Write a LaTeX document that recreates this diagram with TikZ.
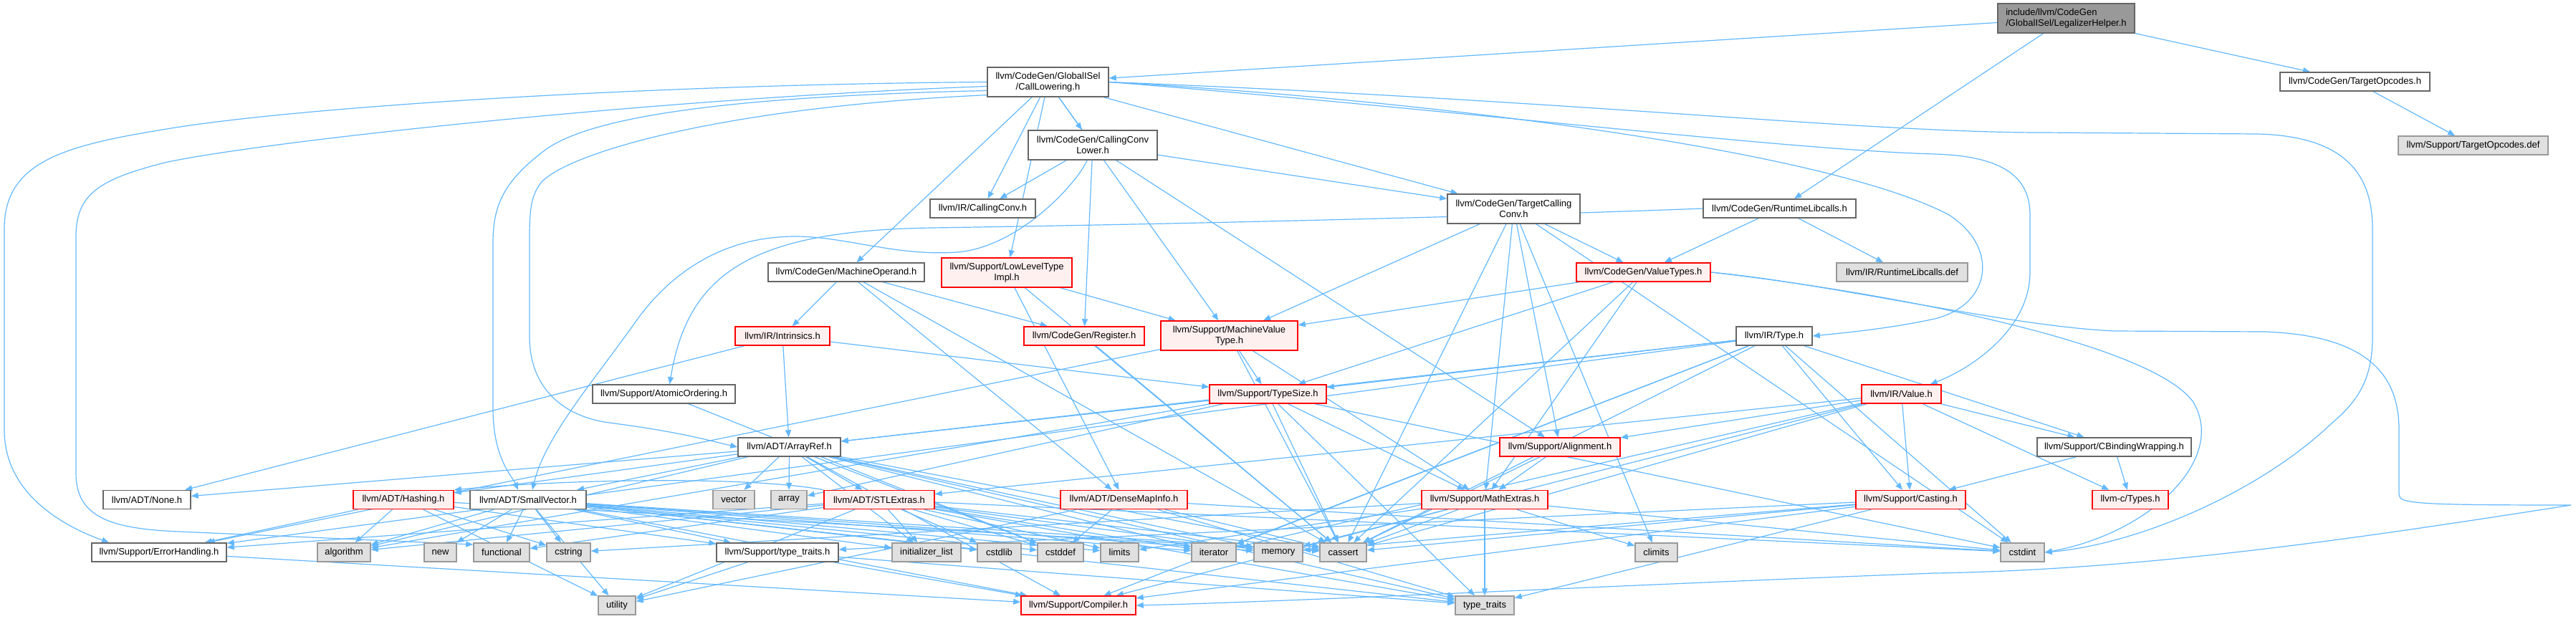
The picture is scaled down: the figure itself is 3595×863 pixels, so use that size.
\documentclass[tikz,border=0pt]{standalone}
\usepackage{fontspec}
\newfontfamily\lsans{Liberation Sans}
\usetikzlibrary{arrows.meta}
\definecolor{edgec}{HTML}{63B8FF}
\definecolor{bordc}{HTML}{666666}
\definecolor{gbord}{HTML}{999999}
\definecolor{gfill}{HTML}{E0E0E0}
\definecolor{rfill}{HTML}{FFF0F0}
\definecolor{rootf}{HTML}{999999}
\definecolor{rbord}{HTML}{FF0000}
\pgfdeclarelayer{bg}
\pgfsetlayers{bg,main}
\tikzset{
  base/.style={draw, line width=1.5pt, inner sep=0pt, minimum height=26, align=center, font={\lsans\fontsize{13}{15}\selectfont}},
  two/.style={minimum height=41},
  wn/.style={base, draw=bordc, fill=white},
  rn/.style={base, draw=rbord, fill=rfill},
  gn/.style={base, draw=gbord, fill=gfill},
  rootn/.style={base, draw=bordc, fill=rootf, align=left},
  ln/.style={draw=edgec, line width=1.2pt, -{Triangle[length=10pt,width=8pt]}},
}
\begin{document}
\begin{tikzpicture}[x=1pt,y=-1pt]
\useasboundingbox (0,0) rectangle (3595,863);
% row 0
\node[rootn,two,minimum width=191] (root) at (2883.5,25.5) {include/llvm/CodeGen\\/GlobalISel/LegalizerHelper.h};
% row 1
\node[wn,two,minimum width=169] (cl) at (1462.5,114.5) {llvm/CodeGen/GlobalISel\\/CallLowering.h};
\node[wn,minimum width=209] (topc) at (3286.5,114) {llvm/CodeGen/TargetOpcodes.h};
% row 2
\node[wn,two,minimum width=180] (ccl) at (1525,202.5) {llvm/CodeGen/CallingConv\\Lower.h};
\node[gn,minimum width=209] (topd) at (3451.5,203) {llvm/Support/TargetOpcodes.def};
% row 3
\node[wn,minimum width=147] (cc) at (1371.5,291) {llvm/IR/CallingConv.h};
\node[wn,two,minimum width=185] (tcc) at (2112.5,291.5) {llvm/CodeGen/TargetCalling\\Conv.h};
\node[wn,minimum width=213] (rl) at (2483.5,291) {llvm/CodeGen/RuntimeLibcalls.h};
% row 4
\node[wn,minimum width=218] (mo) at (1181,380) {llvm/CodeGen/MachineOperand.h};
\node[rn,two,minimum width=182] (llt) at (1405,380.5) {llvm/Support/LowLevelType\\Impl.h};
\node[rn,minimum width=187] (vt) at (2293.5,380) {llvm/CodeGen/ValueTypes.h};
\node[gn,minimum width=183] (rld) at (2654.5,380) {llvm/IR/RuntimeLibcalls.def};
% row 5
\node[rn,minimum width=132] (intr) at (1092,469) {llvm/IR/Intrinsics.h};
\node[rn,minimum width=168] (reg) at (1513,469) {llvm/CodeGen/Register.h};
\node[rn,two,minimum width=191] (mvt) at (1715.5,468.5) {llvm/Support/MachineValue\\Type.h};
\node[wn,minimum width=106] (type) at (2476,469) {llvm/IR/Type.h};
% row 6
\node[wn,minimum width=199] (ao) at (926.5,550) {llvm/Support/AtomicOrdering.h};
\node[rn,minimum width=163] (ts) at (1769.5,550) {llvm/Support/TypeSize.h};
\node[rn,minimum width=111] (val) at (2653.5,550) {llvm/IR/Value.h};
% row 7
\node[wn,minimum width=143] (ar) at (1101.5,624) {llvm/ADT/ArrayRef.h};
\node[rn,minimum width=168] (al) at (2177,624) {llvm/Support/Alignment.h};
\node[wn,minimum width=215] (cbw) at (2950.5,624) {llvm/Support/CBindingWrapping.h};
% row 8
\node[wn,minimum width=122] (none) at (205,697.5) {llvm/ADT/None.h};
\node[rn,minimum width=140] (hash) at (563,697.5) {llvm/ADT/Hashing.h};
\node[wn,minimum width=162] (sv) at (737,697.5) {llvm/ADT/SmallVector.h};
\node[gn,minimum width=58] (vec) at (1024,697.5) {vector};
\node[gn,minimum width=50] (arr) at (1101,697.5) {array};
\node[rn,minimum width=154] (stl) at (1227,697.5) {llvm/ADT/STLExtras.h};
\node[rn,minimum width=177] (dmi) at (1568.5,697.5) {llvm/ADT/DenseMapInfo.h};
\node[rn,minimum width=176] (me) at (2072,697.5) {llvm/Support/MathExtras.h};
\node[rn,minimum width=153] (cast) at (2666.5,697.5) {llvm/Support/Casting.h};
\node[rn,minimum width=106] (ctypes) at (2973,697.5) {llvm-c/Types.h};
% row 9
\node[wn,minimum width=188] (eh) at (222,771) {llvm/Support/ErrorHandling.h};
\node[gn,minimum width=74] (algo) at (480,771) {algorithm};
\node[gn,minimum width=45] (new) at (614.5,771) {new};
\node[gn,minimum width=78] (func) at (700,771) {functional};
\node[gn,minimum width=61] (cstring) at (793.5,771) {cstring};
\node[wn,minimum width=170] (tt) at (1085,771) {llvm/Support/type\_traits.h};
\node[gn,minimum width=96] (il) at (1293,771) {initializer\_list};
\node[gn,minimum width=61] (cstdlib) at (1394.5,771) {cstdlib};
\node[gn,minimum width=64] (cstddef) at (1480,771) {cstddef};
\node[gn,minimum width=53] (limits) at (1562.5,771) {limits};
\node[gn,minimum width=62] (iter) at (1694,771) {iterator};
\node[gn,minimum width=68] (mem) at (1784,771) {memory};
\node[gn,minimum width=65] (cassert) at (1874.5,771) {cassert};
\node[gn,minimum width=59] (climits) at (2311.5,771) {climits};
\node[gn,minimum width=61] (cstdint) at (2822.5,771) {cstdint};
% row 10
\node[gn,minimum width=52] (util) at (861,845) {utility};
\node[rn,minimum width=160] (comp) at (1505,845) {llvm/Support/Compiler.h};
\node[gn,minimum width=82] (stt) at (2072,845) {type\_traits};

\begin{pgfonlayer}{bg}
\foreach \a/\b in {root/cl, root/rl, root/topc, topc/topd,
  cl/ccl, cl/mo, cl/tcc, cl/cc, cl/llt, cl/mvt,
  ccl/reg, ccl/tcc, ccl/cc, ccl/al,
  tcc/vt, tcc/al, tcc/mvt, tcc/me, tcc/cassert, tcc/climits, tcc/cstdint,
  mo/dmi, mo/reg, mo/intr, mo/cassert,
  llt/dmi, llt/mvt, llt/cassert,
  reg/cassert,
  mvt/eh, mvt/me, mvt/ts, mvt/cassert,
  intr/ar, intr/none, intr/ts,
  ao/cstddef,
  rl/vt, rl/rld,
  vt/mvt, vt/ts, vt/me, vt/cassert,
  type/ar, type/eh, type/ts, type/cassert, type/iter, type/comp, type/cbw, type/cast, type/cstdint,
  val/ctypes, val/stl, val/al, val/cbw, val/cast, val/cassert, val/iter, val/mem,
  cbw/ctypes, cbw/cast,
  cast/comp, cast/tt, cast/cassert, cast/mem, cast/stt,
  al/me, al/cassert,
  me/comp, me/cassert, me/climits, me/cstdint, me/cstring, me/limits, me/stt,
  ts/ar, ts/me, ts/algo, ts/arr, ts/cassert, ts/cstdint, ts/stt,
  ar/hash, ar/none, ar/sv, ar/stl, ar/comp, ar/algo, ar/arr, ar/cassert, ar/cstddef, ar/il, ar/iter, ar/mem, ar/stt, ar/vec,
  hash/eh, hash/tt, hash/algo, hash/cassert, hash/cstring, hash/util,
  sv/comp, sv/tt, sv/algo, sv/cassert, sv/cstddef, sv/cstdlib, sv/cstring, sv/func, sv/il, sv/iter, sv/limits, sv/mem, sv/new, sv/stt, sv/util,
  stl/eh, stl/algo, stl/cassert, stl/cstddef, stl/cstdint, stl/cstdlib, stl/func, stl/il, stl/iter, stl/limits, stl/mem, stl/stt, stl/util,
  dmi/cassert, dmi/cstddef, dmi/cstdint, dmi/stt, dmi/util,
  tt/comp, tt/stt, tt/util,
  eh/comp}
  \draw[ln] (\a) -- (\b);
% long routed connectors
\draw[ln] (cl.180) .. controls (900,118) and (400,150) .. (221,182) .. controls (80,205) and (6,230) .. (6,320) -- (6,600) .. controls (6,690) and (90,735) .. ([xshift=-70pt]eh.north);
\draw[ln] (cl.184) .. controls (900,138) and (350,200) .. (230,227) .. controls (140,250) and (106,270) .. (106,330) -- (106,660) .. controls (106,720) and (150,738) .. (250,742) -- ([yshift=11pt]func.west);
\draw[ln] (cl.188) .. controls (1000,135) and (820,165) .. (760,210) .. controls (700,255) and (688,290) .. (688,340) -- (688,570) .. controls (688,640) and (715,665) .. ([xshift=-14pt]sv.north);
\draw[ln] (cl.192) .. controls (1000,150) and (790,215) .. (755,255) .. controls (742,272) and (739,290) .. (739,330) -- (739,470) .. controls (739,545) and (790,582) .. (850,590) .. controls (950,603) and (990,615) .. (ar.west);
\draw[ln] (ccl.250) .. controls (1500,260) and (1420,345) .. (1336,352) .. controls (1250,358) and (1180,330) .. (1110,330) .. controls (1000,330) and (930,390) .. (890,445) .. controls (830,530) and (760,610) .. ([xshift=6pt]sv.north);
\draw[ln] (rl.west) .. controls (2150,300) and (1700,312) .. (1300,318) .. controls (1050,322) and (960,380) .. ([xshift=8pt]ao.north);
\draw[ln] (cl.east) .. controls (2000,140) and (2550,210) .. (2720,300) .. controls (2790,345) and (2780,425) .. (2700,445) .. controls (2640,458) and (2580,464) .. (type.east);
\draw[ln] (cl.east) .. controls (2000,150) and (2500,210) .. (2700,215) .. controls (2800,218) and (2833,250) .. (2833,300) -- (2833,380) .. controls (2833,460) and (2750,515) .. ([xshift=-16pt]val.north east);
\draw[ln] (cl.east) .. controls (2200,140) and (2600,185) .. (2850,185) -- (3150,187) .. controls (3280,190) and (3311,250) .. (3311,320) -- (3311,470) .. controls (3311,530) and (3290,560) .. (3255,590) .. controls (3150,690) and (2980,760) .. (cstdint.east);
\draw[ln] (vt.east) .. controls (2550,395) and (2800,455) .. (2950,462) -- (3160,463) .. controls (3300,468) and (3348,520) .. (3348,600) -- (3348,690) .. controls (3348,703) and (3370,705) .. (3588,705) .. controls (3300,750) and (3000,795) .. (2700,800) .. controls (2300,815) and (1800,840) .. (comp.east);
\draw[ln] (vt.east) .. controls (2650,410) and (3000,480) .. (3060,560) .. controls (3110,640) and (3000,745) .. (cstdint.east);
\draw[ln] (stl.north west) .. controls (1050,665) and (800,668) .. (hash.north east);
\end{pgfonlayer}
\end{tikzpicture}
\end{document}
